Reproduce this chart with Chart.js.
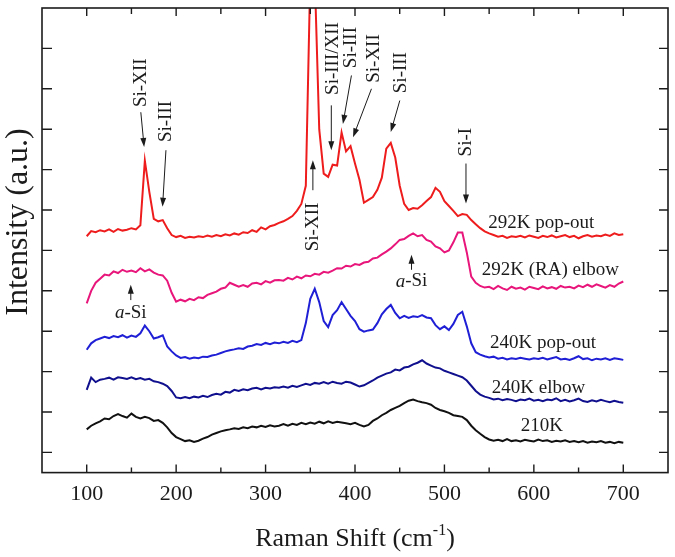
<!DOCTYPE html>
<html>
<head>
<meta charset="utf-8">
<script src="https://cdn.jsdelivr.net/npm/chart.js@4.4.1/dist/chart.umd.min.js"></script>
<style>
  html, body { margin: 0; padding: 0; background: #fff; }
  #wrap { width: 675px; height: 557px; }
</style>
</head>
<body>
<div id="wrap"><canvas id="ramanChart"></canvas></div>
<script>
// Raman shift (cm-1) sampling
const shifts = [100,105,110,115,120,125,130,135,140,145,150,155,160,165,170,175,180,185,190,195,
  200,205,210,215,220,225,230,235,240,245,250,255,260,265,270,275,280,285,290,295,
  300,305,310,315,320,325,330,335,340,345,350,355,360,365,370,375,380,385,390,395,
  400,405,410,415,420,425,430,435,440,445,450,455,460,465,470,475,480,485,490,495,
  500,505,510,515,520,525,530,535,540,545,550,555,560,565,570,575,580,585,590,595,
  600,605,610,615,620,625,630,635,640,645,650,655,660,665,670,675,680,685,690,695,700];

// intensities (offset, a.u.)
const popout292 = [6.35,6.48,6.45,6.50,6.47,6.52,6.46,6.53,6.49,6.51,6.55,6.52,6.62,8.22,7.45,6.78,6.72,6.75,6.55,6.38,
  6.33,6.36,6.31,6.34,6.32,6.35,6.33,6.37,6.34,6.38,6.35,6.40,6.37,6.42,6.39,6.45,6.43,6.50,6.46,6.57,
  6.52,6.60,6.63,6.68,6.72,6.78,6.85,6.98,7.15,7.60,12.8,12.8,9.00,7.90,7.82,8.12,8.10,8.92,8.45,8.58,
  8.15,7.75,7.18,7.25,7.32,7.50,7.80,8.52,8.66,8.30,7.60,7.15,7.00,7.05,7.03,7.12,7.22,7.32,7.55,7.45,
  7.22,7.10,6.98,6.85,6.90,6.88,6.75,6.65,6.55,6.47,6.42,6.38,6.34,6.36,6.31,6.35,6.33,6.36,6.32,6.37,
  6.34,6.31,6.36,6.33,6.37,6.32,6.35,6.38,6.33,6.36,6.30,6.35,6.38,6.34,6.37,6.35,6.39,6.36,6.42,6.38,6.40];

const elbow292RA = [4.69,5.00,5.20,5.30,5.40,5.38,5.48,5.44,5.52,5.47,5.50,5.46,5.56,5.48,5.53,5.45,5.40,5.38,5.25,4.95,
  4.73,4.78,4.74,4.80,4.77,4.84,4.82,4.90,4.94,4.98,5.05,5.08,5.20,5.15,5.10,5.14,5.10,5.18,5.20,5.16,
  5.24,5.20,5.26,5.27,5.25,5.32,5.28,5.35,5.31,5.38,5.36,5.42,5.40,5.47,5.45,5.50,5.56,5.55,5.62,5.60,
  5.66,5.64,5.70,5.72,5.80,5.82,5.90,5.97,6.05,6.15,6.26,6.28,6.36,6.42,6.35,6.38,6.26,6.22,6.10,6.05,
  5.95,6.00,6.20,6.44,6.44,5.95,5.35,5.20,5.12,5.08,5.10,5.04,5.12,5.06,5.02,5.10,5.05,5.08,5.03,5.10,
  5.07,5.04,5.11,5.06,5.09,5.05,5.12,5.08,5.10,5.06,5.13,5.09,5.15,5.10,5.16,5.12,5.08,5.14,5.10,5.18,5.23];

const popout240 = [3.54,3.70,3.78,3.82,3.86,3.83,3.88,3.85,3.90,3.84,3.89,3.86,3.95,4.14,4.00,3.82,3.85,3.90,3.62,3.50,
  3.40,3.34,3.36,3.32,3.35,3.33,3.37,3.36,3.40,3.42,3.46,3.50,3.53,3.55,3.58,3.56,3.62,3.64,3.68,3.66,
  3.71,3.68,3.72,3.70,3.74,3.71,3.76,3.73,3.78,4.20,4.80,5.05,4.72,4.25,4.10,4.40,4.52,4.72,4.55,4.38,
  4.25,4.05,3.99,4.02,4.04,4.20,4.42,4.55,4.65,4.45,4.32,4.38,4.33,4.37,4.35,4.40,4.34,4.32,4.15,4.05,
  4.12,4.03,4.18,4.40,4.48,4.12,3.70,3.48,3.42,3.38,3.35,3.37,3.32,3.34,3.30,3.33,3.31,3.34,3.32,3.30,
  3.33,3.31,3.34,3.30,3.33,3.36,3.30,3.32,3.29,3.33,3.38,3.31,3.33,3.28,3.32,3.30,3.33,3.29,3.33,3.31,3.29];

const elbow240 = [2.55,2.85,2.74,2.80,2.82,2.85,2.80,2.86,2.84,2.82,2.86,2.81,2.84,2.80,2.82,2.76,2.74,2.70,2.64,2.52,
  2.36,2.34,2.37,2.34,2.38,2.36,2.40,2.37,2.42,2.45,2.43,2.50,2.48,2.55,2.52,2.56,2.54,2.58,2.60,2.56,
  2.60,2.58,2.61,2.60,2.63,2.60,2.65,2.62,2.66,2.70,2.67,2.72,2.70,2.74,2.70,2.75,2.72,2.70,2.75,2.73,
  2.68,2.63,2.66,2.72,2.78,2.85,2.90,2.95,2.98,3.05,3.03,3.10,3.12,3.18,3.22,3.28,3.20,3.15,3.10,3.08,
  3.02,2.98,2.94,2.90,2.86,2.78,2.65,2.52,2.43,2.38,2.35,2.31,2.33,2.29,2.32,2.30,2.27,2.31,2.29,2.33,
  2.28,2.30,2.27,2.31,2.29,2.34,2.27,2.30,2.26,2.29,2.33,2.27,2.25,2.29,2.26,2.30,2.27,2.24,2.28,2.25,2.23];

const k210 = [1.57,1.66,1.72,1.77,1.84,1.82,1.90,1.95,1.90,1.86,1.96,1.88,1.84,1.88,1.85,1.78,1.80,1.73,1.62,1.48,
  1.38,1.33,1.28,1.30,1.26,1.29,1.34,1.38,1.44,1.48,1.52,1.55,1.57,1.60,1.58,1.62,1.60,1.64,1.62,1.66,
  1.63,1.67,1.64,1.66,1.70,1.66,1.71,1.68,1.73,1.70,1.74,1.71,1.76,1.72,1.77,1.73,1.76,1.74,1.72,1.70,
  1.73,1.68,1.64,1.68,1.78,1.84,1.92,1.98,2.05,2.10,2.15,2.22,2.28,2.31,2.27,2.24,2.22,2.18,2.10,2.05,
  2.02,1.98,1.92,1.90,1.88,1.80,1.66,1.55,1.46,1.38,1.32,1.29,1.31,1.28,1.33,1.28,1.30,1.27,1.31,1.29,
  1.27,1.32,1.28,1.30,1.26,1.29,1.27,1.30,1.26,1.28,1.25,1.28,1.24,1.27,1.25,1.28,1.24,1.26,1.23,1.26,1.24];

const xMajorTicks = [100, 200, 300, 400, 500, 600, 700];
const xMinorTicks = [150, 250, 350, 450, 550, 650];
const yTicks = [1, 2, 3, 4, 5, 6, 7, 8, 9, 10, 11];

// curve names, placed right of each spectrum [text, x, y]
const curveLabels = [
  ['292K pop-out', 549, 6.68],
  ['292K (RA) elbow', 541.7, 5.52],
  ['240K pop-out', 551, 3.71],
  ['240K elbow', 552.9, 2.60],
  ['210K', 585.4, 1.65]
];

// phase markers: [text, textX, textY, arrowFromX, arrowFromY, arrowToX, arrowToY]
const phaseMarks = [
  ['Si-XII', 160.5, 10.15, 160.5, 9.42, 164.2, 8.56],
  ['Si-III', 188.6, 9.19, 188.6, 8.48, 184.8, 7.08],
  ['Si-XII', 352.9, 6.58, 352.9, 7.49, 352.9, 8.23],
  ['Si-III/XII', 375.3, 10.75, 373.5, 9.59, 373.5, 8.48],
  ['Si-III', 396.0, 11.02, 396.0, 10.33, 386.5, 9.13],
  ['Si-XII', 421.3, 10.75, 418.4, 10.0, 397.8, 8.80],
  ['Si-III', 451.2, 10.40, 450.1, 9.71, 440.0, 8.93],
  ['Si-I', 524.1, 8.68, 524.1, 8.15, 524.1, 7.16]
];

// amorphous Si markers: [textX, textY, arrowFromX, arrowFromY, arrowToX, arrowToY]
const aSiMarks = [
  [149.3, 4.45, 149.3, 4.77, 149.3, 5.15],
  [463.2, 5.23, 463.2, 5.52, 463.2, 5.89]
];

const serif = '"Liberation Serif", "Times New Roman", serif';
const ink = '#1b1b1b';

function toPoints(vals) {
  return shifts.map((s, i) => ({ x: s, y: vals[i] }));
}

function drawArrow(ctx, x1, y1, x2, y2) {
  const ang = Math.atan2(y2 - y1, x2 - x1);
  const len = 9, half = 3;
  ctx.beginPath();
  ctx.moveTo(x1, y1);
  ctx.lineTo(x2 - Math.cos(ang) * len * 0.8, y2 - Math.sin(ang) * len * 0.8);
  ctx.stroke();
  ctx.beginPath();
  ctx.moveTo(x2, y2);
  ctx.lineTo(x2 - Math.cos(ang) * len + Math.sin(ang) * half, y2 - Math.sin(ang) * len - Math.cos(ang) * half);
  ctx.lineTo(x2 - Math.cos(ang) * len - Math.sin(ang) * half, y2 - Math.sin(ang) * len + Math.cos(ang) * half);
  ctx.closePath();
  ctx.fill();
}

const decorPlugin = {
  id: 'decor',
  afterDraw(chart) {
    const { ctx, chartArea: a, scales: { x, y } } = chart;
    ctx.save();
    ctx.strokeStyle = ink;
    ctx.fillStyle = ink;

    // frame
    ctx.lineWidth = 1.6;
    ctx.strokeRect(a.left, a.top, a.right - a.left, a.bottom - a.top);

    // inward ticks
    ctx.lineWidth = 1.4;
    ctx.beginPath();
    xMajorTicks.forEach(v => {
      const px = x.getPixelForValue(v);
      ctx.moveTo(px, a.bottom); ctx.lineTo(px, a.bottom - 8);
      ctx.moveTo(px, a.top); ctx.lineTo(px, a.top + 8);
    });
    xMinorTicks.forEach(v => {
      const px = x.getPixelForValue(v);
      ctx.moveTo(px, a.bottom); ctx.lineTo(px, a.bottom - 5);
      ctx.moveTo(px, a.top); ctx.lineTo(px, a.top + 6);
    });
    yTicks.forEach(v => {
      const py = y.getPixelForValue(v);
      ctx.moveTo(a.left, py); ctx.lineTo(a.left + 10, py);
      ctx.moveTo(a.right, py); ctx.lineTo(a.right - 9, py);
    });
    ctx.stroke();

    // curve names
    ctx.font = '19px ' + serif;
    ctx.textAlign = 'left';
    ctx.textBaseline = 'middle';
    curveLabels.forEach(([t, lx, ly]) => {
      ctx.fillText(t, x.getPixelForValue(lx), y.getPixelForValue(ly));
    });

    // phase markers, vertical text
    ctx.lineWidth = 1;
    phaseMarks.forEach(([t, tx, ty, fx, fy, ex, ey]) => {
      ctx.save();
      ctx.translate(x.getPixelForValue(tx), y.getPixelForValue(ty));
      ctx.rotate(-Math.PI / 2);
      ctx.textAlign = 'center';
      ctx.textBaseline = 'middle';
      ctx.font = '19px ' + serif;
      ctx.fillText(t, 0, 0);
      ctx.restore();
      drawArrow(ctx, x.getPixelForValue(fx), y.getPixelForValue(fy), x.getPixelForValue(ex), y.getPixelForValue(ey));
    });

    // a-Si markers
    aSiMarks.forEach(([tx, ty, fx, fy, ex, ey]) => {
      const px = x.getPixelForValue(tx), py = y.getPixelForValue(ty);
      ctx.font = 'italic 19px ' + serif;
      const w1 = ctx.measureText('a').width;
      ctx.font = '19px ' + serif;
      const w2 = ctx.measureText('-Si').width;
      const left = px - (w1 + w2) / 2;
      ctx.textAlign = 'left';
      ctx.textBaseline = 'middle';
      ctx.font = 'italic 19px ' + serif;
      ctx.fillText('a', left, py);
      ctx.font = '19px ' + serif;
      ctx.fillText('-Si', left + w1, py);
      drawArrow(ctx, x.getPixelForValue(fx), y.getPixelForValue(fy), x.getPixelForValue(ex), y.getPixelForValue(ey));
    });

    // y-axis title
    ctx.save();
    ctx.translate(19, 222);
    ctx.rotate(-Math.PI / 2);
    ctx.textAlign = 'center';
    ctx.textBaseline = 'middle';
    ctx.font = '32px ' + serif;
    ctx.fillText('Intensity (a.u.)', 0, 0);
    ctx.restore();

    // x-axis title with superscript
    const main = 'Raman Shift (cm', sup = '-1', tail = ')';
    ctx.textBaseline = 'alphabetic';
    ctx.textAlign = 'left';
    ctx.font = '26px ' + serif;
    const wMain = ctx.measureText(main).width, wTail = ctx.measureText(tail).width;
    ctx.font = '16px ' + serif;
    const wSup = ctx.measureText(sup).width;
    const cx = (a.left + a.right) / 2;
    let sx = cx - (wMain + wSup + wTail) / 2;
    const base = 546;
    ctx.font = '26px ' + serif;
    ctx.fillText(main, sx, base);
    ctx.font = '16px ' + serif;
    ctx.fillText(sup, sx + wMain, base - 11);
    ctx.font = '26px ' + serif;
    ctx.fillText(tail, sx + wMain + wSup, base);

    ctx.restore();
  }
};

const lineSet = (label, vals, color) => ({
  label,
  data: toPoints(vals),
  borderColor: color,
  borderWidth: 2,
  pointRadius: 0,
  tension: 0,
  fill: false
});

new Chart(document.getElementById('ramanChart').getContext('2d'), {
  type: 'line',
  data: {
    datasets: [
      lineSet('292K pop-out', popout292, '#ee1c1c'),
      lineSet('292K (RA) elbow', elbow292RA, '#e8157a'),
      lineSet('240K pop-out', popout240, '#1f1fd6'),
      lineSet('240K elbow', elbow240, '#10108e'),
      lineSet('210K', k210, '#111111')
    ]
  },
  options: {
    responsive: true,
    maintainAspectRatio: false,
    animation: false,
    layout: { padding: { left: 42, right: 7, top: 8, bottom: 42 } },
    plugins: {
      legend: { display: false },
      tooltip: { enabled: false }
    },
    scales: {
      x: {
        type: 'linear',
        min: 50,
        max: 750,
        border: { display: false },
        grid: { display: false, drawTicks: false },
        afterBuildTicks: axis => { axis.ticks = xMajorTicks.map(v => ({ value: v })); },
        ticks: {
          color: ink,
          padding: 8,
          maxRotation: 0,
          font: { family: serif, size: 22 }
        }
      },
      y: {
        type: 'linear',
        display: false,
        min: 0.5,
        max: 12
      }
    }
  },
  plugins: [decorPlugin]
});
</script>
</body>
</html>
